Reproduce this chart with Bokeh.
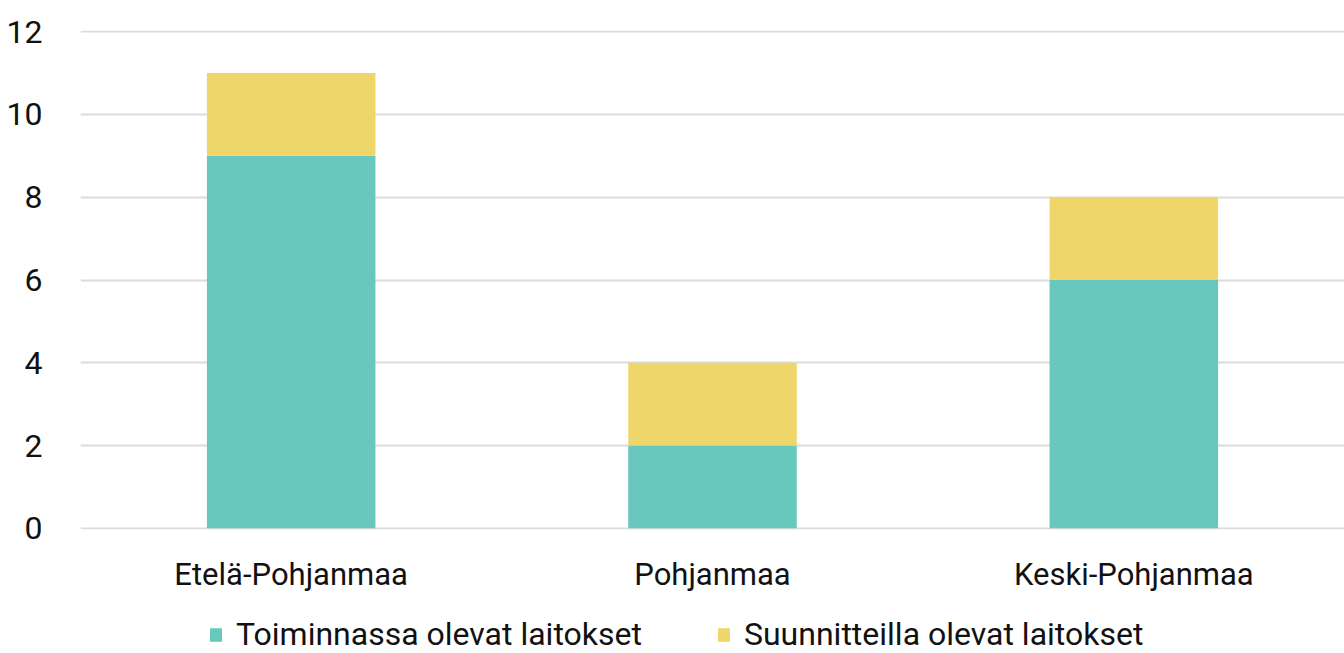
from bokeh.plotting import figure
from bokeh.models import ColumnDataSource, Legend, LegendItem, Range1d, FixedTicker
from bokeh.layouts import column
from bokeh.embed import file_html
from bokeh.resources import INLINE

regions = ["Etelä-Pohjanmaa", "Pohjanmaa", "Keski-Pohjanmaa"]
toiminnassa = [9, 2, 6]
suunnitteilla = [2, 2, 2]
series = ["Toiminnassa olevat laitokset", "Suunnitteilla olevat laitokset"]
colors = ["#69C8BD", "#EED66B"]
y_ticks = [0, 2, 4, 6, 8, 10, 12]

FONT = "Roboto"
source = ColumnDataSource(dict(region=regions, t=toiminnassa, s=suunnitteilla))

p = figure(x_range=regions, y_range=Range1d(-0.03, 12.03), width=1344, height=595,
           output_backend="svg", toolbar_location=None,
           min_border_left=80, min_border_right=0, min_border_top=30, min_border_bottom=64)

r = p.vbar_stack(["t", "s"], x="region", width=0.4, color=colors, source=source, line_width=0)

p.outline_line_color = None
p.xgrid.grid_line_color = None
p.ygrid.grid_line_color = "#DCDCDC"
p.ygrid.grid_line_width = 2
p.yaxis.ticker = FixedTicker(ticks=y_ticks)
for ax in (p.xaxis, p.yaxis):
    ax.axis_line_color = None
    ax.major_tick_line_color = None
    ax.minor_tick_line_color = None
    ax.major_label_text_font = FONT
    ax.major_label_text_color = "#111111"
p.xaxis.major_label_text_font_size = "31px"
p.yaxis.major_label_text_font_size = "32px"
p.yaxis.major_label_standoff = 32
p.xaxis.major_label_standoff = 20
p.x_range.range_padding = 0

# legend in its own strip below the chart (swatch renderers sit outside the visible range)
lf = figure(width=1344, height=58, output_backend="svg", toolbar_location=None,
            min_border=0, x_range=Range1d(0, 1), y_range=Range1d(0, 1))
lf.axis.visible = False
lf.grid.visible = False
lf.outline_line_color = None
swatch = ColumnDataSource(dict(x=[-10], y=[-10]))
g0 = lf.rect("x", "y", width=1, height=1, color=colors[0], line_width=0, source=swatch)
g1 = lf.rect("x", "y", width=1, height=1, color=colors[1], line_width=0, source=swatch)
legend = Legend(items=[LegendItem(label=series[0], renderers=[g0]),
                       LegendItem(label=series[1], renderers=[g1])],
                orientation="horizontal", location=(128, 0),
                label_text_font=FONT, label_text_font_size="32px", label_text_color="#111111",
                glyph_width=15, glyph_height=17, label_standoff=13, spacing=74,
                border_line_color=None, background_fill_alpha=0, padding=0, margin=0)
lf.add_layout(legend, "center")

open("out.html", "w").write(file_html(column(p, lf, spacing=0), INLINE))
